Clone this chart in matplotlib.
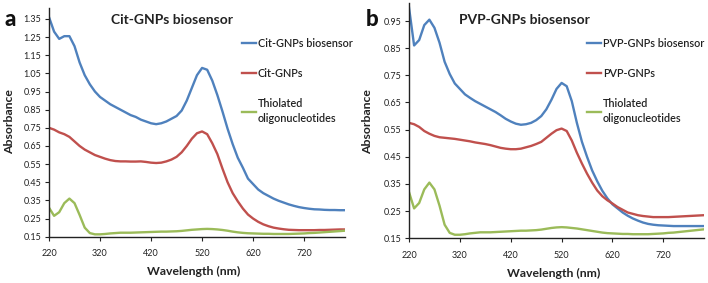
import matplotlib
matplotlib.use("Agg")
import matplotlib.pyplot as plt

plt.rcParams['font.family'] = ['Lato', 'DejaVu Sans']

# wavelength grid (nm)
wl = list(range(220, 801, 10))

# panel a: Cit-GNPs
cit_bio = [1.36, 1.28, 1.24, 1.255, 1.255, 1.20, 1.11, 1.04, 0.99, 0.95,
           0.92, 0.90, 0.88, 0.865, 0.85, 0.835, 0.82, 0.81, 0.795, 0.785,
           0.775, 0.77, 0.775, 0.785, 0.80, 0.815, 0.845, 0.90, 0.97, 1.04,
           1.08, 1.07, 1.01, 0.93, 0.84, 0.745, 0.66, 0.585, 0.53, 0.47,
           0.44, 0.41, 0.39, 0.375, 0.36, 0.348, 0.338, 0.328, 0.32, 0.313,
           0.308, 0.304, 0.301, 0.30, 0.298, 0.297, 0.297, 0.296, 0.296]
cit_gnp = [0.75, 0.74, 0.725, 0.715, 0.70, 0.675, 0.65, 0.63, 0.615, 0.60,
           0.59, 0.58, 0.572, 0.567, 0.565, 0.565, 0.564, 0.564, 0.565, 0.562,
           0.558, 0.556, 0.558, 0.565, 0.575, 0.59, 0.615, 0.65, 0.69, 0.72,
           0.73, 0.715, 0.665, 0.605, 0.525, 0.45, 0.39, 0.345, 0.305, 0.272,
           0.25, 0.232, 0.218, 0.208, 0.20, 0.195, 0.191, 0.188, 0.187, 0.186,
           0.186, 0.186, 0.186, 0.187, 0.187, 0.188, 0.189, 0.19, 0.19]
thiol_a = [0.31, 0.265, 0.285, 0.335, 0.36, 0.335, 0.27, 0.20, 0.17, 0.163,
           0.163, 0.165, 0.168, 0.17, 0.172, 0.172, 0.172, 0.173, 0.174, 0.175,
           0.176, 0.177, 0.178, 0.178, 0.179, 0.18, 0.182, 0.185, 0.188, 0.19,
           0.192, 0.193, 0.192, 0.19, 0.187, 0.183, 0.178, 0.174, 0.171, 0.169,
           0.168, 0.167, 0.166, 0.166, 0.165, 0.165, 0.165, 0.165, 0.166, 0.167,
           0.168, 0.17, 0.171, 0.173, 0.175, 0.177, 0.179, 0.181, 0.183]

# panel b: PVP-GNPs
pvp_bio = [1.00, 0.86, 0.88, 0.935, 0.955, 0.925, 0.87, 0.80, 0.755, 0.72,
           0.70, 0.68, 0.667, 0.655, 0.645, 0.635, 0.625, 0.615, 0.603, 0.59,
           0.58, 0.572, 0.568, 0.57, 0.575, 0.585, 0.60, 0.625, 0.66, 0.70,
           0.722, 0.71, 0.655, 0.575, 0.505, 0.45, 0.40, 0.36, 0.325, 0.297,
           0.275, 0.26, 0.245, 0.233, 0.223, 0.215, 0.208, 0.203, 0.20, 0.198,
           0.197, 0.196, 0.195, 0.195, 0.195, 0.195, 0.195, 0.195, 0.195]
pvp_gnp = [0.575, 0.57, 0.56, 0.545, 0.535, 0.527, 0.522, 0.52, 0.518, 0.516,
           0.513, 0.51, 0.507, 0.503, 0.50, 0.497, 0.493, 0.488, 0.483, 0.48,
           0.478, 0.478, 0.48, 0.485, 0.49, 0.497, 0.505, 0.52, 0.535, 0.548,
           0.554, 0.545, 0.51, 0.465, 0.425, 0.388, 0.355, 0.326, 0.305, 0.29,
           0.278, 0.265, 0.255, 0.245, 0.24, 0.235, 0.232, 0.23, 0.228, 0.228,
           0.228, 0.228, 0.229, 0.23, 0.231, 0.232, 0.233, 0.234, 0.235]
thiol_b = [0.32, 0.26, 0.28, 0.33, 0.355, 0.33, 0.27, 0.20, 0.17, 0.163,
           0.163, 0.165, 0.168, 0.17, 0.172, 0.172, 0.172, 0.173, 0.174, 0.175,
           0.176, 0.177, 0.178, 0.178, 0.179, 0.18, 0.182, 0.185, 0.188, 0.19,
           0.191, 0.19, 0.188, 0.186, 0.183, 0.18, 0.177, 0.174, 0.171, 0.169,
           0.168, 0.167, 0.166, 0.166, 0.165, 0.165, 0.165, 0.165, 0.166, 0.167,
           0.168, 0.17, 0.171, 0.173, 0.175, 0.177, 0.179, 0.181, 0.183]

xticks = [220, 320, 420, 520, 620, 720]
yticks_a = [0.15, 0.25, 0.35, 0.45, 0.55, 0.65, 0.75, 0.85, 0.95, 1.05, 1.15, 1.25, 1.35]
yticks_b = [0.15, 0.25, 0.35, 0.45, 0.55, 0.65, 0.75, 0.85, 0.95]

BLUE = "#4F81BD"
RED = "#C0504D"
GREEN = "#9BBB59"
INK = "#222222"

fig = plt.figure(figsize=(7.08, 2.83), dpi=100)
ax1 = fig.add_axes([0.0692, 0.1636, 0.418, 0.808])
ax2 = fig.add_axes([0.5777, 0.158, 0.4167, 0.8325])


def style(ax, yticks, ylim):
    ax.set_xlim(220, 800)
    ax.set_ylim(*ylim)
    ax.set_xticks(xticks)
    ax.set_yticks(yticks)
    ax.set_yticklabels([f"{v:.2f}" for v in yticks])
    for s in ["top", "right"]:
        ax.spines[s].set_visible(False)
    for s in ["left", "bottom"]:
        ax.spines[s].set_color(INK)
        ax.spines[s].set_linewidth(1.0)
    ax.tick_params(axis="both", labelsize=6.5, length=3, width=0.8, pad=2.5,
                   colors=INK)
    ax.tick_params(axis="x", pad=6)


ax1.plot(wl, cit_bio, color=BLUE, lw=1.7, label="Cit-GNPs biosensor")
ax1.plot(wl, cit_gnp, color=RED, lw=1.7, label="Cit-GNPs")
ax1.plot(wl, thiol_a, color=GREEN, lw=1.7, label="Thiolated\noligonucleotides")
style(ax1, yticks_a, (0.15, 1.41))

ax2.plot(wl, pvp_bio, color=BLUE, lw=1.7, label="PVP-GNPs biosensor")
ax2.plot(wl, pvp_gnp, color=RED, lw=1.7, label="PVP-GNPs")
ax2.plot(wl, thiol_b, color=GREEN, lw=1.7, label="Thiolated\noligonucleotides")
style(ax2, yticks_b, (0.15, 1.0175))

for ax, x0 in [(ax1, 242 / 708), (ax2, 587 / 708)]:
    leg = ax.legend(loc="upper left", bbox_to_anchor=(x0, 1 - 38 / 283),
                    bbox_transform=fig.transFigure, frameon=False,
                    fontsize=7.8, handlelength=1.25, handletextpad=0.2,
                    labelspacing=1.75, borderaxespad=0, borderpad=0)
    for t in leg.get_texts():
        t.set_fontweight("semibold")
        t.set_color(INK)
        t.set_linespacing(1.45)

# titles, panel letters, axis labels
fig.text(172 / 708, 1 - 20 / 283, "Cit-GNPs biosensor", ha="center", va="center",
         fontsize=10, fontweight="bold", color=INK)
fig.text(524 / 708, 1 - 20 / 283, "PVP-GNPs biosensor", ha="center", va="center",
         fontsize=10, fontweight="bold", color=INK)
fig.text(10 / 708, 1 - 20 / 283, "a", ha="center", va="center",
         fontsize=16, fontweight="black", color="#111111")
fig.text(372 / 708, 1 - 20 / 283, "b", ha="center", va="center",
         fontsize=16, fontweight="black", color="#111111")
fig.text(10 / 708, 1 - 122 / 283, "Absorbance", ha="center", va="center",
         rotation=90, fontsize=8.8, fontweight="bold", color=INK)
fig.text(368 / 708, 1 - 122 / 283, "Absorbance", ha="center", va="center",
         rotation=90, fontsize=8.8, fontweight="bold", color=INK)
fig.text(194 / 708, 1 - 271 / 283, "Wavelength (nm)", ha="center", va="center",
         fontsize=8.8, fontweight="bold", color=INK)
fig.text(554 / 708, 1 - 273 / 283, "Wavelength (nm)", ha="center", va="center",
         fontsize=8.8, fontweight="bold", color=INK)

fig.savefig("out.png", dpi=100)
